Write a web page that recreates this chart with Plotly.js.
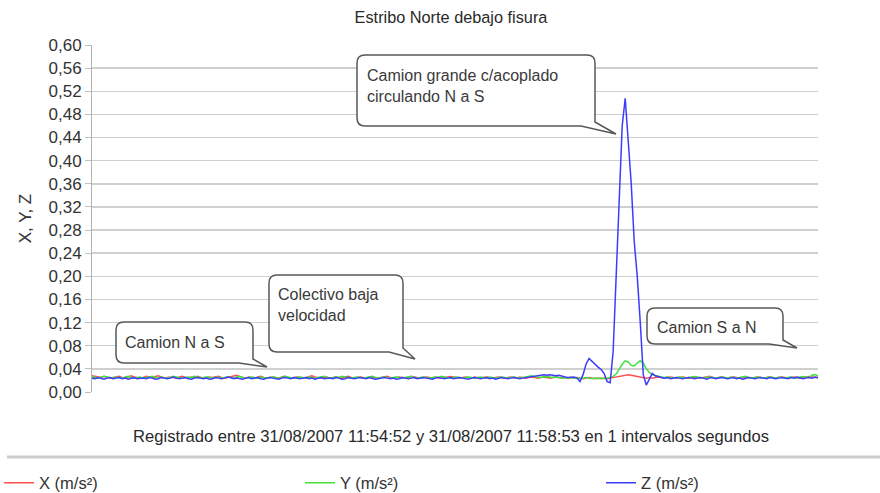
<!DOCTYPE html>
<html>
<head>
<meta charset="utf-8">
<script src="https://cdn.plot.ly/plotly-3.0.1.min.js"></script>
<style>html,body{margin:0;padding:0;background:#fff;}#chart{width:880px;height:493px;}</style>
</head>
<body>
<div id="chart"></div>
<script>
// ---- data (1 s samples, 11:54:52 to 11:58:53) ----
const seriesNames = ["X (m/s²)", "Y (m/s²)", "Z (m/s²)"];
const xValues = [
.028,.027,.026,.025,.027,.026,.024,.025,.026,.027,
.025,.024,.026,.028,.026,.025,.024,.025,.027,.026,
.025,.027,.028,.026,.024,.025,.026,.025,.024,.026,
.027,.025,.024,.026,.025,.027,.026,.024,.025,.026,
.025,.026,.027,.025,.024,.025,.026,.028,.029,.027,
.025,.024,.026,.025,.024,.026,.027,.025,.024,.025,
.026,.025,.024,.026,.027,.025,.024,.025,.026,.025,
.024,.025,.027,.028,.026,.025,.024,.025,.026,.024,
.025,.026,.025,.024,.026,.027,.025,.024,.025,.026,
.025,.024,.025,.026,.025,.024,.025,.026,.027,.025,
.024,.025,.026,.025,.024,.026,.027,.026,.025,.024,
.025,.026,.025,.024,.026,.025,.024,.025,.026,.027,
.026,.025,.024,.025,.026,.025,.024,.026,.025,.024,
.025,.026,.025,.024,.025,.026,.025,.024,.025,.026,
.025,.024,.026,.025,.024,.025,.026,.025,.024,.025,
.026,.025,.024,.025,.026,.025,.024,.025,.024,.025,
.024,.025,.024,.023,.024,.025,.024,.023,.024,.023,
.024,.023,.024,.025,.026,.027,.028,.029,.030,.029,
.028,.027,.026,.025,.024,.025,.024,.025,.026,.025,
.024,.025,.026,.025,.024,.025,.026,.025,.024,.025,
.026,.025,.024,.025,.026,.027,.025,.024,.025,.026,
.025,.024,.025,.026,.025,.024,.025,.026,.025,.024,
.025,.026,.025,.024,.025,.026,.025,.024,.025,.026,
.025,.024,.025,.026,.025,.024,.025,.026,.027,.026,.025,.024
];
const yValues = [
.025,.026,.024,.025,.027,.026,.025,.024,.026,.025,
.024,.026,.027,.025,.024,.025,.026,.024,.025,.026,
.027,.025,.024,.026,.025,.024,.025,.027,.026,.025,
.024,.025,.026,.025,.027,.026,.024,.025,.026,.025,
.024,.026,.025,.024,.025,.026,.025,.024,.026,.027,
.025,.024,.025,.026,.025,.024,.026,.025,.024,.025,
.026,.025,.024,.025,.027,.026,.025,.024,.025,.026,
.025,.024,.026,.025,.024,.025,.026,.027,.025,.024,
.025,.026,.025,.027,.026,.025,.024,.025,.026,.025,
.024,.025,.026,.027,.025,.024,.025,.026,.025,.024,
.025,.026,.025,.024,.025,.026,.027,.025,.024,.025,
.026,.025,.024,.025,.026,.025,.027,.026,.025,.024,
.025,.026,.025,.024,.025,.026,.025,.024,.025,.026,
.025,.024,.026,.025,.024,.025,.026,.025,.024,.025,
.026,.025,.024,.025,.026,.027,.028,.027,.026,.025,
.026,.027,.026,.025,.026,.025,.024,.025,.024,.025,
.024,.025,.023,.024,.025,.024,.023,.024,.023,.024,
.023,.024,.025,.027,.031,.040,.048,.054,.052,.046,
.045,.050,.054,.050,.040,.034,.030,.028,.027,.026,
.025,.026,.025,.024,.025,.026,.025,.024,.025,.026,
.027,.026,.025,.024,.025,.026,.025,.024,.025,.026,
.025,.024,.026,.025,.024,.025,.026,.027,.025,.024,
.025,.026,.025,.024,.025,.026,.025,.024,.026,.025,
.024,.025,.026,.025,.024,.026,.027,.026,.025,.029,.030,.028
];
const zValues = [
.024,.023,.025,.024,.022,.024,.025,.023,.024,.025,
.023,.024,.022,.024,.025,.023,.024,.024,.023,.025,
.024,.022,.023,.025,.024,.023,.024,.026,.024,.023,
.024,.025,.023,.022,.024,.025,.024,.023,.024,.022,
.023,.025,.024,.023,.024,.026,.025,.023,.024,.023,
.022,.024,.025,.023,.024,.025,.023,.022,.024,.025,
.024,.023,.022,.024,.025,.024,.023,.025,.024,.023,
.024,.025,.023,.024,.022,.024,.025,.023,.024,.024,
.023,.025,.024,.022,.023,.025,.024,.023,.024,.025,
.024,.023,.025,.024,.022,.023,.024,.025,.024,.023,
.024,.022,.023,.025,.024,.023,.024,.025,.023,.024,
.025,.024,.023,.022,.024,.025,.024,.023,.024,.025,
.023,.024,.025,.024,.023,.022,.024,.025,.024,.023,
.024,.025,.023,.024,.022,.024,.025,.024,.023,.024,
.025,.024,.023,.024,.025,.026,.027,.028,.029,.030,
.030,.029,.030,.029,.028,.029,.027,.026,.025,.025,
.026,.024,.018,.030,.048,.058,.053,.047,.043,.039,
.032,.018,.016,.070,.200,.320,.460,.508,.440,.360,
.260,.200,.120,.030,.012,.022,.032,.028,.026,.025,
.024,.025,.023,.024,.025,.024,.023,.024,.025,.024,
.023,.024,.025,.024,.022,.024,.025,.023,.024,.025,
.024,.023,.024,.025,.023,.024,.022,.024,.025,.024,
.023,.024,.025,.024,.023,.025,.024,.023,.024,.025,
.024,.023,.025,.024,.026,.024,.023,.024,.025,.024,.026,.025
];
const yTickVals = [0,0.04,0.08,0.12,0.16,0.20,0.24,0.28,0.32,0.36,0.40,0.44,0.48,0.52,0.56,0.60];
const titleText = "Estribo Norte debajo fisura";
const yTitleText = "X, Y, Z";
const footText = "Registrado entre 31/08/2007 11:54:52 y 31/08/2007 11:58:53 en 1 intervalos segundos";
const calloutTexts = ["Camion N a S", "Colectivo baja<br>velocidad", "Camion grande c/acoplado<br>circulando N a S", "Camion S a N"];

// ---- layout helpers (pixel -> paper) ----
const W = 880, Hh = 493;
const M = {l: 92, r: 62, t: 45, b: 101, autoexpand: false};
const PW = W - M.l - M.r, PH = Hh - M.t - M.b;
const px = p => (p - M.l) / PW;
const py = p => (Hh - M.b - p) / PH;

const timeIdx = xValues.map((_, i) => i);
const FONT = "Liberation Sans, Arial, sans-serif";

const traces = [
  {x: timeIdx, y: xValues, name: seriesNames[0], type: "scatter", mode: "lines", line: {color: "#ff5050", width: 1.5}, legend: "legend"},
  {x: timeIdx, y: yValues, name: seriesNames[1], type: "scatter", mode: "lines", line: {color: "#40e040", width: 1.5}, legend: "legend"},
  {x: timeIdx, y: zValues, name: seriesNames[2], type: "scatter", mode: "lines", line: {color: "#3c3cff", width: 1.5}, legend: "legend2"}
];

// callout boxes: [x0,y0,x1,y1, tipDx, tipDy, textX, textY]
const boxes = [
  [116, 322, 253, 363, 14, 4, 123, 342],
  [269, 275, 403, 352, 12, 7, 276, 305],
  [357, 55, 595, 126, 21, 8, 365, 86],
  [647, 308, 783, 344, 14, 4, 655, 327]
];
function boxPath(b) {
  const [x0, y0, x1, y1, dx, dy] = b, r = 8;
  const P = (x, y) => px(x).toFixed(5) + "," + py(y).toFixed(5);
  return "M" + P(x0 + r, y0) + " L" + P(x1 - r, y0) + " Q" + P(x1, y0) + " " + P(x1, y0 + r) +
    " L" + P(x1, y1 - 4) + " L" + P(x1 + dx, y1 + dy) + " L" + P(x1 - r - 6, y1) +
    " L" + P(x0 + r, y1) + " Q" + P(x0, y1) + " " + P(x0, y1 - r) +
    " L" + P(x0, y0 + r) + " Q" + P(x0, y0) + " " + P(x0 + r, y0) + " Z";
}
const shapes = boxes.map(b => ({type: "path", xref: "paper", yref: "paper", path: boxPath(b),
  line: {color: "#585858", width: 1.5}, fillcolor: "#ffffff", layer: "above"}));
shapes.push({type: "line", xref: "paper", yref: "paper", x0: px(7), x1: px(880), y0: py(457), y1: py(457),
  line: {color: "#cccccc", width: 3}});

const annotations = boxes.map((b, i) => ({xref: "paper", yref: "paper", x: px(b[6]), y: py(b[7]),
  xanchor: "left", yanchor: "middle", align: "left", text: calloutTexts[i], showarrow: false,
  font: {family: FONT, size: 16, color: "#3a3a3a"}}));
annotations.push({xref: "paper", yref: "paper", x: px(451), y: py(436), xanchor: "center", yanchor: "middle",
  text: footText, showarrow: false, font: {family: FONT, size: 16.6, color: "#2a2a2a"}});

const legendFont = {family: FONT, size: 16.5, color: "#333333"};
const layout = {
  width: W, height: Hh,
  margin: M,
  paper_bgcolor: "#ffffff", plot_bgcolor: "#ffffff",
  separators: ",.",
  font: {family: FONT, size: 16, color: "#333333"},
  title: {text: titleText, x: 451 / W, xanchor: "center", y: 1 - 17 / Hh, yanchor: "middle",
    font: {family: FONT, size: 16.3, color: "#2a2a2a"}},
  showlegend: true,
  legend: {orientation: "h", x: px(-1), xanchor: "left", y: py(483), yanchor: "middle",
    entrywidth: 256, entrywidthmode: "pixels", font: legendFont, bgcolor: "rgba(0,0,0,0)"},
  legend2: {orientation: "h", x: px(601), xanchor: "left", y: py(483), yanchor: "middle",
    font: legendFont, bgcolor: "rgba(0,0,0,0)"},
  xaxis: {range: [0, timeIdx.length - 1], showgrid: false, zeroline: false, showline: false,
    showticklabels: false, ticks: "", fixedrange: true},
  yaxis: {range: [0, 0.6], tickvals: yTickVals, tickformat: ".2f", showgrid: true, gridcolor: "#cfcfcf", gridwidth: 1.5,
    zeroline: false, showline: true, linecolor: "#b0b0b0", linewidth: 1, ticks: "outside", ticklen: 6,
    tickcolor: "#c0c0c0", tickfont: {family: FONT, size: 17, color: "#333333"},
    title: {text: yTitleText, standoff: 12, font: {family: FONT, size: 17, color: "#333333"}}},
  shapes: shapes,
  annotations: annotations
};

Plotly.newPlot("chart", traces, layout, {staticPlot: true, displayModeBar: false});
</script>
</body>
</html>
